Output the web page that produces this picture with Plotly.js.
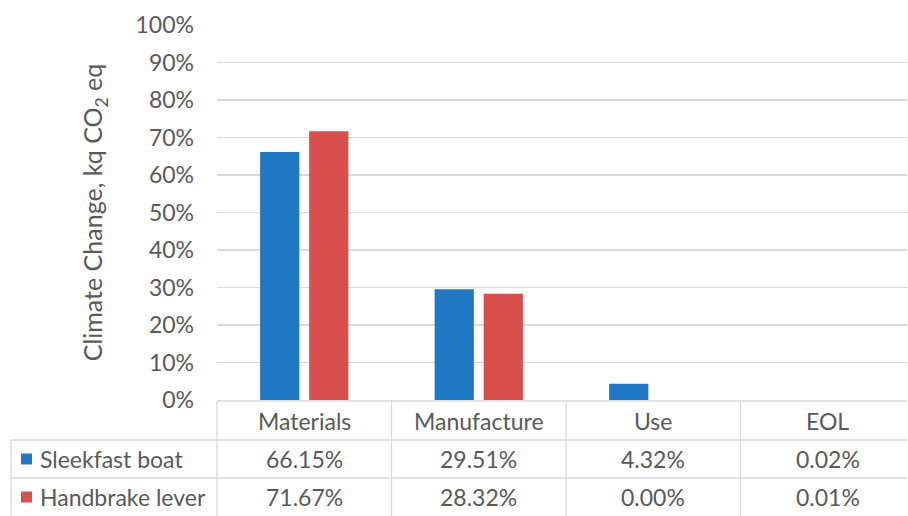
<!DOCTYPE html>
<html>
<head>
<meta charset="utf-8">
<script src="https://cdn.plot.ly/plotly-3.0.1.min.js"></script>
<style>
  html, body { margin: 0; padding: 0; background: #ffffff; }
  #chart { width: 908px; height: 516px; }
</style>
</head>
<body>
<div id="chart"></div>
<script>
// ---- data ----
const categories = ['Materials', 'Manufacture', 'Use', 'EOL'];
const seriesNames = ['Sleekfast boat', 'Handbrake lever'];
const sleekfastBoat = [66.15, 29.51, 4.32, 0.02];
const handbrakeLever = [71.67, 28.32, 0.00, 0.01];
const yTickValues = [0, 10, 20, 30, 40, 50, 60, 70, 80, 90, 100];
const yTickLabels = ['0%', '10%', '20%', '30%', '40%', '50%', '60%', '70%', '80%', '90%', '100%'];

// ---- style ----
const colors = ['#1F78C1', '#D94F4C'];
const textColor = '#595959';
const lineColor = '#D9D9D9';
const fontFamily = 'Lato, "Open Sans", sans-serif';
const fontSize = 23;

const W = 908, H = 516;
const margin = {l: 217, r: 1, t: 25, b: 116};
const plotW = W - margin.l - margin.r;
const plotH = H - margin.t - margin.b;
const catWidthPx = 174.5;
const xRange = [-0.5, -0.5 + plotW / catWidthPx];

// helpers: pixel offsets below plot -> paper
const pyToPaper = (py) => (H - margin.b - py) / plotH;
const pxToPaper = (px) => (px - margin.l) / plotW;
const catEdgeToPaper = (e) => (e - xRange[0]) / (xRange[1] - xRange[0]);

const seriesValues = [sleekfastBoat, handbrakeLever];

const traces = seriesValues.map((vals, i) => ({
  type: 'bar',
  name: seriesNames[i],
  x: categories,
  y: vals,
  marker: {color: colors[i], line: {width: 0}},
  hoverinfo: 'x+y+name'
}));

// ---- data table below the plot ----
const rowTop = 401, rowHeader = 440, row1 = 478, rowBottom = 516;
const tableLeftPx = 11;
const shapes = [];
const annotations = [];
const lineStyle = {color: lineColor, width: 1.3};

shapes.push({type: 'line', xref: 'paper', yref: 'paper', x0: 0, x1: 1,
  y0: pyToPaper(rowTop), y1: pyToPaper(rowTop), line: lineStyle});
[rowHeader, row1].forEach(py => shapes.push({type: 'line', xref: 'paper', yref: 'paper',
  x0: pxToPaper(tableLeftPx), x1: 1, y0: pyToPaper(py), y1: pyToPaper(py), line: lineStyle}));
shapes.push({type: 'line', xref: 'paper', yref: 'paper',
  x0: pxToPaper(tableLeftPx), x1: pxToPaper(tableLeftPx),
  y0: pyToPaper(rowHeader), y1: pyToPaper(rowBottom), line: lineStyle});
for (let i = 0; i <= categories.length; i++) {
  const xp = catEdgeToPaper(i - 0.5);
  if (xp > 1.0001) continue;
  shapes.push({type: 'line', xref: 'paper', yref: 'paper', x0: xp, x1: xp,
    y0: pyToPaper(rowTop), y1: pyToPaper(rowBottom), line: lineStyle});
}

const cellFont = {family: fontFamily, size: fontSize, color: textColor};
categories.forEach(c => annotations.push({
  xref: 'x', yref: 'paper', x: c, y: pyToPaper((rowTop + rowHeader) / 2),
  text: c, showarrow: false, font: cellFont, xanchor: 'center', yanchor: 'middle'
}));
const rowCenters = [(rowHeader + row1) / 2, (row1 + rowBottom) / 2];
seriesValues.forEach((vals, r) => {
  const yc = rowCenters[r];
  shapes.push({type: 'rect', xref: 'paper', yref: 'paper',
    x0: pxToPaper(21), x1: pxToPaper(32), y0: pyToPaper(yc - 5.5), y1: pyToPaper(yc + 5.5),
    fillcolor: colors[r], line: {width: 0}});
  annotations.push({xref: 'paper', yref: 'paper', x: pxToPaper(38), y: pyToPaper(yc),
    text: seriesNames[r], showarrow: false, font: cellFont, xanchor: 'left', yanchor: 'middle'});
  vals.forEach((v, j) => annotations.push({
    xref: 'x', yref: 'paper', x: categories[j], y: pyToPaper(yc),
    text: v.toFixed(2) + '%', showarrow: false, font: cellFont, xanchor: 'center', yanchor: 'middle'
  }));
});

const layout = {
  width: W, height: H,
  margin: margin,
  paper_bgcolor: '#ffffff', plot_bgcolor: '#ffffff',
  font: {family: fontFamily, size: fontSize, color: textColor},
  showlegend: false,
  barmode: 'group',
  bargap: 0.438,
  bargroupgap: 0.2,
  xaxis: {
    type: 'category',
    range: xRange,
    showticklabels: false,
    showgrid: false, zeroline: false, showline: false, ticks: ''
  },
  yaxis: {
    range: [0, 100],
    tickmode: 'array',
    tickvals: yTickValues,
    ticktext: yTickLabels,
    showgrid: true, gridcolor: lineColor, gridwidth: 1.3,
    zeroline: false, showline: false, ticks: '',
    ticklabelstandoff: 22,
    tickfont: {family: fontFamily, size: fontSize, color: textColor},
    automargin: true,
    title: {
      text: 'Climate Change, kq CO<sub>2</sub> eq',
      font: {family: fontFamily, size: 25, color: textColor},
      standoff: 25
    }
  },
  shapes: shapes,
  annotations: annotations
};

Plotly.newPlot('chart', traces, layout, {displayModeBar: false, staticPlot: true});
</script>
</body>
</html>
